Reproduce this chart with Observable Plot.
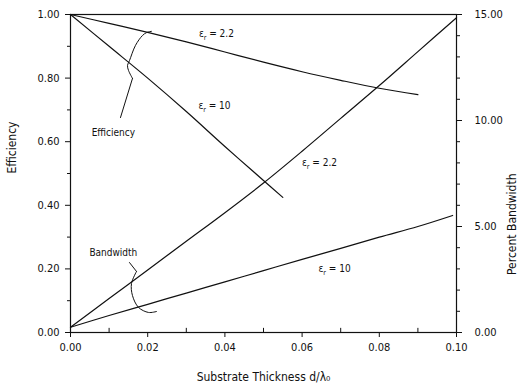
<!DOCTYPE html>
<html>
<head>
<meta charset="utf-8">
<script src="https://cdn.jsdelivr.net/npm/d3@7"></script>
<script src="https://cdn.jsdelivr.net/npm/@observablehq/plot@0.6"></script>
<style>
  html, body { margin: 0; padding: 0; background: #fff; }
  #chart svg { font-family: "Liberation Sans Narrow", "DejaVu Sans Condensed", sans-serif; }
</style>
</head>
<body>
<div id="chart"></div>
<script>
// Efficiency (left axis, 0..1)
const effX22 = [0, 0.01, 0.02, 0.03, 0.04, 0.05, 0.06, 0.07, 0.08, 0.09];
const eff22  = [1.0, 0.972, 0.944, 0.914, 0.882, 0.85, 0.82, 0.793, 0.768, 0.748];
const effX10 = [0, 0.01, 0.02, 0.03, 0.04, 0.05, 0.055];
const eff10  = [1.0, 0.90, 0.80, 0.695, 0.585, 0.478, 0.425];
// Percent bandwidth (right axis, 0..15)
const bwX22 = [0, 0.01, 0.02, 0.03, 0.04, 0.05, 0.06, 0.07, 0.08, 0.09, 0.10];
const bw22  = [0.25, 1.6, 2.95, 4.3, 5.65, 7.05, 8.55, 10.1, 11.65, 13.25, 14.85];
const bwX10 = [0, 0.01, 0.02, 0.03, 0.04, 0.05, 0.06, 0.07, 0.08, 0.09, 0.099];
const bw10  = [0.25, 0.8, 1.33, 1.86, 2.39, 2.92, 3.45, 3.97, 4.5, 5.0, 5.52];
const bwMax = 15;

// Tick labels
const xTicks = [0, 0.02, 0.04, 0.06, 0.08, 0.10];
const xMinor = [0.01, 0.03, 0.05, 0.07, 0.09];
const yTicks = [0, 0.2, 0.4, 0.6, 0.8, 1.0];
const yMinor = [0.1, 0.3, 0.5, 0.7, 0.9];
const bwTicks = [0, 5, 10, 15];
const bwMinor = [1, 2, 3, 4, 6, 7, 8, 9, 11, 12, 13, 14];

// Annotations (data coordinates)
const labels = [
  {x: 0.0378, y: 0.940, t: "εr=2.2"},
  {x: 0.0373, y: 0.714, t: "εr=10"},
  {x: 0.0645, y: 0.535, t: "εr=2.2"},
  {x: 0.0684, y: 0.201, t: "εr=10"},
  {x: 0.0111, y: 0.629, t: "Efficiency"},
  {x: 0.0111, y: 0.252, t: "Bandwidth"}
];
const effLeadX = [0.01295, 0.01606];
const effLeadY = [0.676, 0.799];
const effBraceX = [0.01606, 0.01503, 0.01477, 0.01528, 0.01684, 0.01865, 0.01969, 0.02098];
const effBraceY = [0.799, 0.824, 0.840, 0.855, 0.903, 0.934, 0.943, 0.947];
const bwLeadX = [0.01528, 0.01710];
const bwLeadY = [0.220, 0.192];
const bwBraceX = [0.01710, 0.01580, 0.01606, 0.01762, 0.02021, 0.02228];
const bwBraceY = [0.192, 0.154, 0.116, 0.079, 0.063, 0.066];

const pts = (xs, ys) => xs.map((x, i) => ({x, y: ys[i]}));
const bwPts = (xs, ys) => xs.map((x, i) => ({x, y: ys[i] / bwMax}));

const fmt2 = d3.format(".2f");

const chart = Plot.plot({
  width: 519,
  height: 392,
  marginLeft: 70,
  marginRight: 63,
  marginTop: 14,
  marginBottom: 60,
  style: {fontSize: "11px", color: "#111", background: "#fff"},
  x: {domain: [0, 0.1]},
  y: {domain: [0, 1]},
  marks: [
    Plot.frame({stroke: "#111", strokeWidth: 1.2}),
    Plot.axisX(xTicks, {tickFormat: fmt2, tickSize: 5, tickPadding: 6, label: null, fontSize: 11}),
    Plot.ruleX(xMinor, {x: d => d, y1: 0, y2: 0.013, stroke: "#111"}),
    Plot.axisY(yTicks, {tickFormat: fmt2, tickSize: 5, tickPadding: 6, label: null, fontSize: 11}),
    Plot.axisY(yMinor, {tickFormat: () => "", tickSize: 3, label: null}),
    Plot.axisY(bwTicks.map(d => d / bwMax), {anchor: "right", tickFormat: d => fmt2(d * bwMax), tickSize: 5, tickPadding: 13, label: null, fontSize: 11}),
    Plot.axisY(bwMinor.map(d => d / bwMax), {anchor: "right", tickFormat: () => "", tickSize: 3, label: null}),
    Plot.text(["Substrate Thickness d/λ₀"], {frameAnchor: "bottom", dy: 48, fontSize: 12}),
    Plot.text(["Efficiency"], {frameAnchor: "left", dx: -58, rotate: -90, fontSize: 12}),
    Plot.text(["Percent Bandwidth"], {frameAnchor: "right", dx: 56, rotate: -90, fontSize: 12}),
    Plot.line(pts(effX22, eff22), {x: "x", y: "y", stroke: "#111", strokeWidth: 1.2, curve: "catmull-rom"}),
    Plot.line(pts(effX10, eff10), {x: "x", y: "y", stroke: "#111", strokeWidth: 1.2, curve: "catmull-rom"}),
    Plot.line(bwPts(bwX22, bw22), {x: "x", y: "y", stroke: "#111", strokeWidth: 1.2, curve: "catmull-rom"}),
    Plot.line(bwPts(bwX10, bw10), {x: "x", y: "y", stroke: "#111", strokeWidth: 1.2, curve: "catmull-rom"}),
    Plot.line(pts(effLeadX, effLeadY), {x: "x", y: "y", stroke: "#111", strokeWidth: 1}),
    Plot.line(pts(effBraceX, effBraceY), {x: "x", y: "y", stroke: "#111", strokeWidth: 1, curve: "catmull-rom"}),
    Plot.line(pts(bwLeadX, bwLeadY), {x: "x", y: "y", stroke: "#111", strokeWidth: 1}),
    Plot.line(pts(bwBraceX, bwBraceY), {x: "x", y: "y", stroke: "#111", strokeWidth: 1, curve: "catmull-rom"}),
    Plot.text(labels, {x: "x", y: "y", text: "t", fontSize: 10, fill: "#111"})
  ]
});

// subscript r in ε_r labels
chart.querySelectorAll("text").forEach(el => {
  const s = el.textContent;
  if (s.startsWith("εr")) {
    const rest = s.slice(2);
    el.textContent = "";
    const ns = "http://www.w3.org/2000/svg";
    el.appendChild(document.createTextNode("ε"));
    const sub = document.createElementNS(ns, "tspan");
    sub.setAttribute("dy", "3");
    sub.setAttribute("font-size", "7");
    sub.textContent = "r";
    el.appendChild(sub);
    const r = document.createElementNS(ns, "tspan");
    r.setAttribute("dy", "-3");
    r.textContent = " " + rest.replace("=", "= ");
    el.appendChild(r);
  }
});

document.getElementById("chart").appendChild(chart);
</script>
</body>
</html>
